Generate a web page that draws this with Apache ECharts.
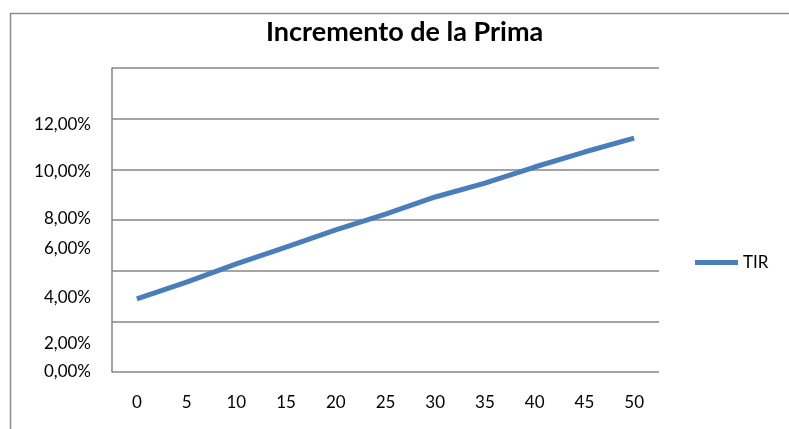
<!DOCTYPE html>
<html>
<head>
<meta charset="utf-8">
<script src="https://cdn.jsdelivr.net/npm/echarts@6/dist/echarts.min.js"></script>
<style>
  html, body { margin: 0; padding: 0; background: #fff; }
  #chart { width: 789px; height: 429px; }
</style>
</head>
<body>
<div id="chart"></div>
<script>
// categories (x axis) and TIR values
const years = ['0', '5', '10', '15', '20', '25', '30', '35', '40', '45', '50'];
const tir = [3.46, 4.26, 5.12, 5.92, 6.73, 7.48, 8.29, 8.95, 9.71, 10.42, 11.08];

// y tick labels as printed, and where they sit on the value scale
const yLabels = ['0,00%', '2,00%', '4,00%', '6,00%', '8,00%', '10,00%', '12,00%'];
const yLabelAt = [0, 1.33, 3.51, 5.87, 7.25, 9.5, 11.7];

const font = 'Lato, "Open Sans", sans-serif';
const gridColor = '#868686';

const chart = echarts.init(document.getElementById('chart'));

chart.setOption({
  animation: false,
  backgroundColor: '#fff',
  title: {
    text: 'Incremento de la Prima',
    left: 261,
    top: 14,
    textStyle: {
      fontFamily: font,
      fontSize: 27,
      fontWeight: 'bold',
      color: '#000'
    }
  },
  legend: {
    orient: 'vertical',
    left: 695,
    top: 254,
    padding: 0,
    icon: 'rect',
    itemWidth: 43,
    itemHeight: 5,
    itemGap: 8,
    textStyle: { fontFamily: font, fontSize: 17, color: '#000' },
    data: ['TIR']
  },
  grid: {
    left: 112,
    right: 130,
    top: 68,
    bottom: 57,
    containLabel: false
  },
  xAxis: {
    type: 'category',
    data: years,
    boundaryGap: true,
    axisLine: { show: false },
    axisTick: { show: false },
    axisLabel: {
      margin: 22,
      fontFamily: font,
      fontSize: 17,
      color: '#000'
    }
  },
  yAxis: {
    type: 'value',
    min: 0,
    max: 14.4,
    interval: 2.4,
    axisLine: { show: true, lineStyle: { color: gridColor, width: 1.5 } },
    axisTick: { show: false },
    splitLine: { show: true, lineStyle: { color: gridColor, width: 1.5 } },
    axisLabel: {
      customValues: yLabelAt,
      margin: 21,
      fontFamily: font,
      fontSize: 17,
      color: '#000',
      formatter: function (v) {
        const i = yLabelAt.indexOf(v);
        return i >= 0 ? yLabels[i] : '';
      }
    }
  },
  series: [
    {
      name: 'TIR',
      type: 'line',
      data: tir,
      showSymbol: false,
      symbol: 'none',
      itemStyle: { color: '#4a7ebb' },
      lineStyle: { color: '#4a7ebb', width: 5 }
    }
  ],
  graphic: [
    {
      type: 'rect',
      shape: { x: 10.5, y: 13.5, width: 800, height: 440 },
      style: { fill: 'none', stroke: '#8c8c8c', lineWidth: 1.5 },
      z: 100
    }
  ]
});
</script>
</body>
</html>
